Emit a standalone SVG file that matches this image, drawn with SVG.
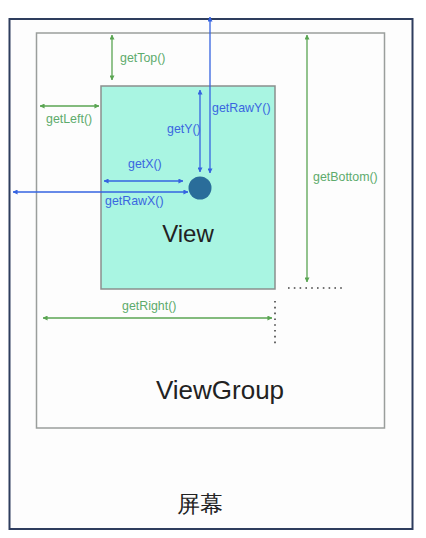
<svg xmlns="http://www.w3.org/2000/svg" width="426" height="538" viewBox="0 0 426 538">
<style>
.g{stroke:#5aa552;stroke-width:1.3;fill:none}
.b{stroke:#3563e0;stroke-width:1.3;fill:none}
.gt{fill:#5dab6c;font-family:"Liberation Sans",Arial,sans-serif;font-size:12.4px}
.bt{fill:#3a66e0;font-family:"Liberation Sans",Arial,sans-serif;font-size:12.4px}
.big{fill:#222;font-family:"Liberation Sans",Arial,sans-serif;text-anchor:middle}
.dot{stroke:#444;stroke-width:1.6;stroke-dasharray:1.6 4.2;fill:none}
</style>
<defs>
<marker id="ag" viewBox="0 0 6 6" refX="5.5" refY="3" markerWidth="5" markerHeight="5" markerUnits="userSpaceOnUse" orient="auto-start-reverse"><path d="M0,0 L6,3 L0,6 z" fill="#5aa552"/></marker>
<marker id="ab" viewBox="0 0 6 6" refX="5.5" refY="3" markerWidth="5" markerHeight="5" markerUnits="userSpaceOnUse" orient="auto-start-reverse"><path d="M0,0 L6,3 L0,6 z" fill="#3563e0"/></marker>
</defs>
<rect width="426" height="538" fill="#fff"/>
<g id="screen">
<rect x="9.5" y="19" width="403" height="510" fill="#fdfdfd" stroke="#2e3d5e" stroke-width="2"/>
<text class="big" x="200" y="512" font-size="23" font-family="'Liberation Sans','Noto Sans CJK SC',sans-serif">屏幕</text>
</g>
<g id="viewgroup">
<rect x="36.5" y="33" width="348" height="395" fill="#fdfdfd" stroke="#9a9e9c" stroke-width="1.5"/>
<text class="big" x="220" y="399" font-size="26">ViewGroup</text>
</g>
<g id="view">
<rect x="101" y="86" width="174" height="203" fill="#a9f5e2" stroke="#8a8f8d" stroke-width="1.5"/>
<text class="big" x="188" y="242" font-size="24">View</text>
</g>
<g id="touch-point">
<circle cx="200" cy="188" r="11.5" fill="#2a6d9a"/>
</g>
<g id="connectors">
<line class="g" x1="112" y1="35" x2="112" y2="80" marker-start="url(#ag)" marker-end="url(#ag)"/>
<line class="g" x1="40" y1="106" x2="99" y2="106" marker-start="url(#ag)" marker-end="url(#ag)"/>
<line class="g" x1="307" y1="35" x2="307" y2="282" marker-start="url(#ag)" marker-end="url(#ag)"/>
<line class="g" x1="43" y1="318" x2="272" y2="318" marker-start="url(#ag)" marker-end="url(#ag)"/>
<line class="b" x1="210" y1="17" x2="210" y2="173" marker-start="url(#ab)" marker-end="url(#ab)"/>
<line class="b" x1="200" y1="90" x2="200" y2="172" marker-start="url(#ab)" marker-end="url(#ab)"/>
<line class="b" x1="104" y1="181" x2="183" y2="181" marker-start="url(#ab)" marker-end="url(#ab)"/>
<line class="b" x1="13" y1="192" x2="188" y2="192" marker-start="url(#ab)" marker-end="url(#ab)"/>
<line class="dot" x1="288" y1="288" x2="346" y2="288"/>
<line class="dot" x1="275" y1="301" x2="275" y2="347"/>
</g>
<g id="labels">
<text class="gt" x="120" y="62">getTop()</text>
<text class="gt" x="46" y="123">getLeft()</text>
<text class="gt" x="313" y="181">getBottom()</text>
<text class="gt" x="122" y="310">getRight()</text>
<text class="bt" x="212" y="112">getRawY()</text>
<text class="bt" x="167" y="133">getY()</text>
<text class="bt" x="128" y="168">getX()</text>
<text class="bt" x="105" y="205">getRawX()</text>
</g>
</svg>
